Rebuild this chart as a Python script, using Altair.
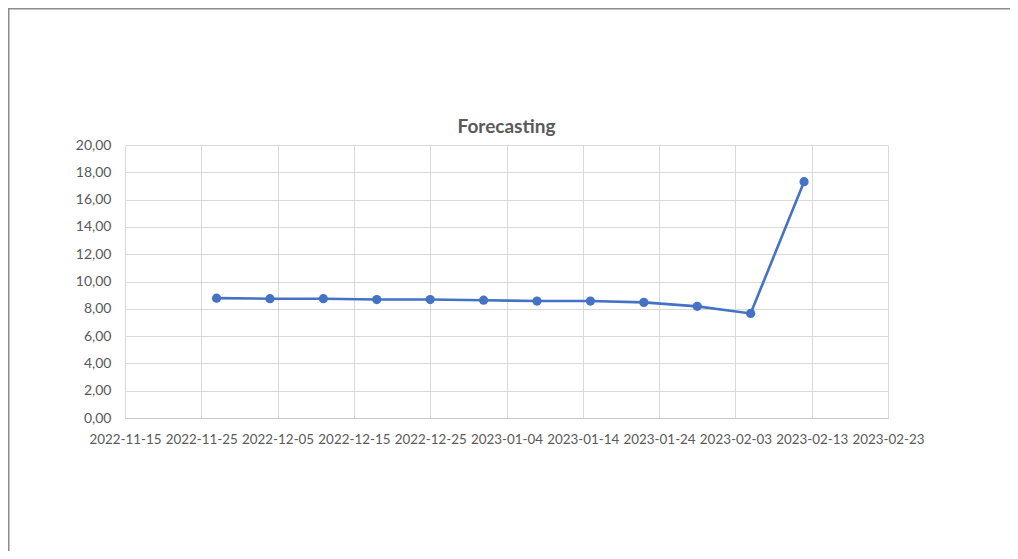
import altair as alt
import pandas as pd

dates = ["2022-11-27", "2022-12-04", "2022-12-11", "2022-12-18", "2022-12-25",
         "2023-01-01", "2023-01-08", "2023-01-15", "2023-01-22", "2023-01-29",
         "2023-02-05", "2023-02-12"]
values = [8.78, 8.74, 8.74, 8.68, 8.68, 8.63, 8.57, 8.57, 8.47, 8.18, 7.66, 17.31]

x_ticks = ["2022-11-15", "2022-11-25", "2022-12-05", "2022-12-15", "2022-12-25",
           "2023-01-04", "2023-01-14", "2023-01-24", "2023-02-03", "2023-02-13",
           "2023-02-23"]
y_ticks = [0, 2, 4, 6, 8, 10, 12, 14, 16, 18, 20]
title_text = "Forecasting"


def ms(s):
    return int(pd.Timestamp(s, tz="UTC").value // 10**6)


df = pd.DataFrame({"t": [ms(d) for d in dates], "v": values})
tick_ms = [ms(d) for d in x_ticks]

FONT = "Lato"
GRAY = "#595959"
BLUE = "#4472C4"

x = alt.X("t:Q",
          scale=alt.Scale(domain=[tick_ms[0], tick_ms[-1]], nice=False, zero=False),
          axis=alt.Axis(values=tick_ms, title=None, grid=True,
                        labelExpr="utcFormat(datum.value, '%Y-%m-%d')",
                        labelOverlap=False, ticks=False, labelPadding=14,
                        labelFlush=False, labelFontSize=13.4))
y = alt.Y("v:Q",
          scale=alt.Scale(domain=[0, 20], nice=False),
          axis=alt.Axis(values=y_ticks, title=None, grid=True, domain=False,
                        ticks=False, labelPadding=14,
                        labelExpr="replace(format(datum.value, '.2f'), '.', ',')"))

line = alt.Chart(df).mark_line(color=BLUE, strokeWidth=2.6).encode(x=x, y=y)
pts = alt.Chart(df).mark_point(filled=True, color=BLUE, size=85, opacity=1).encode(x=x, y=y)

one = alt.Data(values=[{"label": title_text}])
frame_left = alt.Chart(one).mark_rule(color="#8c8c8c", strokeWidth=2).encode(
    x=alt.value(-116.5), y=alt.value(-137), y2=alt.value(410))
frame_top = alt.Chart(one).mark_rule(color="#8c8c8c", strokeWidth=1.5).encode(
    x=alt.value(-117), x2=alt.value(890), y=alt.value(-136.3))
title = alt.Chart(one).mark_text(font=FONT, fontSize=19, fontWeight="bold",
                                 color=GRAY, align="center",
                                 baseline="alphabetic").encode(
    text="label:N", x=alt.value(381.5), y=alt.value(-12))

chart = alt.layer(frame_left, frame_top, line, pts, title).properties(
    width=763, height=273,
    autosize=alt.AutoSizeParams(type="none"),
    padding={"left": 117, "top": 137, "right": 122, "bottom": 133},
    background="white",
).configure_view(stroke=None).configure_axis(
    labelFont=FONT, labelFontSize=14, labelColor=GRAY,
    gridColor="#d9d9d9", gridWidth=1, domainColor="#c8c8c8", domainWidth=1,
)

chart.save("out.html", embed_options={"renderer": "svg", "actions": False})
